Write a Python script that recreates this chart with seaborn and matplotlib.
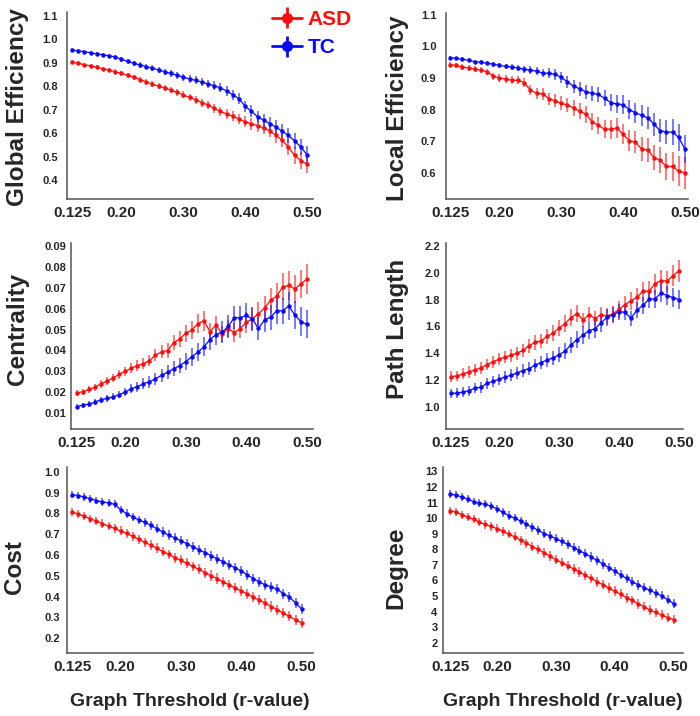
import numpy as np
import pandas as pd
import seaborn as sns
import matplotlib.pyplot as plt

sns.set_theme(style='white')
plt.rcParams['font.family'] = ['Liberation Sans', 'DejaVu Sans']
plt.rcParams['font.weight'] = 'bold'

# graph thresholds (r-value), plotted at evenly spaced positions
thresholds = [0.125, 0.13, 0.14, 0.15, 0.16, 0.17, 0.18, 0.19, 0.20, 0.21, 0.22, 0.23, 0.24,
              0.25, 0.26, 0.27, 0.28, 0.29, 0.30, 0.31, 0.32, 0.33, 0.34, 0.35, 0.36, 0.37,
              0.38, 0.39, 0.40, 0.41, 0.42, 0.43, 0.44, 0.45, 0.46, 0.47, 0.48, 0.49, 0.50]
tick_values = [0.125, 0.20, 0.30, 0.40, 0.50]
tick_labels = ['0.125', '0.20', '0.30', '0.40', '0.50']
groups = ['ASD', 'TC']

# global efficiency
ge_asd = [0.902, 0.897, 0.891, 0.886, 0.880, 0.874, 0.868, 0.861, 0.854, 0.846, 0.838, 0.828, 0.818,
          0.808, 0.800, 0.792, 0.783, 0.773, 0.763, 0.752, 0.742, 0.730, 0.720, 0.705, 0.692, 0.682,
          0.672, 0.660, 0.648, 0.640, 0.632, 0.622, 0.610, 0.590, 0.570, 0.540, 0.505, 0.483, 0.468]
ge_asd_err = [0.008, 0.008, 0.008, 0.008, 0.009, 0.009, 0.009, 0.010, 0.010, 0.011, 0.011, 0.012, 0.012,
              0.013, 0.013, 0.014, 0.014, 0.015, 0.015, 0.016, 0.017, 0.017, 0.018, 0.019, 0.020, 0.021,
              0.022, 0.023, 0.024, 0.025, 0.026, 0.027, 0.028, 0.030, 0.031, 0.033, 0.035, 0.037, 0.038]
ge_tc = [0.953, 0.950, 0.946, 0.942, 0.937, 0.933, 0.929, 0.924, 0.914, 0.905, 0.897, 0.890, 0.883,
         0.876, 0.869, 0.861, 0.854, 0.846, 0.838, 0.831, 0.824, 0.817, 0.809, 0.801, 0.793, 0.779,
         0.763, 0.746, 0.714, 0.693, 0.670, 0.655, 0.640, 0.625, 0.608, 0.590, 0.567, 0.541, 0.508]
ge_tc_err = [0.007, 0.007, 0.007, 0.008, 0.008, 0.008, 0.009, 0.009, 0.010, 0.010, 0.011, 0.011, 0.012,
             0.012, 0.013, 0.013, 0.014, 0.015, 0.015, 0.016, 0.017, 0.018, 0.018, 0.019, 0.020, 0.021,
             0.022, 0.023, 0.024, 0.025, 0.026, 0.027, 0.028, 0.029, 0.030, 0.031, 0.033, 0.034, 0.036]

# local efficiency
le_asd = [0.942, 0.940, 0.935, 0.932, 0.928, 0.925, 0.920, 0.906, 0.900, 0.897, 0.893, 0.893, 0.885,
          0.862, 0.852, 0.850, 0.835, 0.828, 0.820, 0.815, 0.805, 0.795, 0.785, 0.762, 0.750, 0.738,
          0.738, 0.742, 0.722, 0.702, 0.697, 0.675, 0.672, 0.648, 0.640, 0.620, 0.620, 0.605, 0.600]
le_asd_err = [0.008, 0.008, 0.008, 0.009, 0.009, 0.010, 0.010, 0.011, 0.012, 0.012, 0.013, 0.013, 0.014,
              0.016, 0.017, 0.018, 0.019, 0.020, 0.022, 0.023, 0.024, 0.025, 0.026, 0.027, 0.028, 0.029,
              0.030, 0.031, 0.032, 0.034, 0.035, 0.037, 0.038, 0.040, 0.041, 0.043, 0.045, 0.047, 0.050]
le_tc = [0.965, 0.962, 0.960, 0.956, 0.952, 0.950, 0.947, 0.944, 0.940, 0.937, 0.935, 0.932, 0.928,
         0.925, 0.922, 0.916, 0.915, 0.912, 0.902, 0.888, 0.874, 0.866, 0.856, 0.852, 0.848, 0.836,
         0.822, 0.818, 0.816, 0.800, 0.790, 0.782, 0.774, 0.754, 0.733, 0.729, 0.729, 0.712, 0.675]
le_tc_err = [0.005, 0.005, 0.006, 0.006, 0.006, 0.007, 0.007, 0.008, 0.008, 0.009, 0.009, 0.010, 0.011,
             0.012, 0.013, 0.014, 0.016, 0.017, 0.018, 0.020, 0.021, 0.022, 0.023, 0.024, 0.025, 0.026,
             0.027, 0.028, 0.030, 0.031, 0.032, 0.033, 0.034, 0.036, 0.037, 0.039, 0.040, 0.042, 0.045]

# centrality
ce_asd = [0.0196, 0.0201, 0.0212, 0.0223, 0.0239, 0.0252, 0.0268, 0.0284, 0.0300, 0.0313, 0.0327, 0.0335, 0.0351,
          0.0377, 0.0393, 0.0399, 0.0436, 0.0455, 0.0482, 0.0498, 0.0528, 0.0542, 0.0490, 0.0522, 0.0478, 0.0505,
          0.0485, 0.0505, 0.0535, 0.0552, 0.0576, 0.0603, 0.0640, 0.0660, 0.0705, 0.0712, 0.0695, 0.0720, 0.0742]
ce_asd_err = [0.0015, 0.0015, 0.0016, 0.0017, 0.0018, 0.0019, 0.0020, 0.0021, 0.0022, 0.0024, 0.0025, 0.0026, 0.0028,
              0.0030, 0.0032, 0.0034, 0.0036, 0.0038, 0.0040, 0.0042, 0.0045, 0.0048, 0.0040, 0.0045, 0.0040, 0.0042,
              0.0045, 0.0048, 0.0050, 0.0052, 0.0055, 0.0058, 0.0060, 0.0063, 0.0065, 0.0068, 0.0066, 0.0068, 0.0072]
ce_tc = [0.0130, 0.0136, 0.0142, 0.0150, 0.0163, 0.0169, 0.0176, 0.0187, 0.0199, 0.0216, 0.0225, 0.0240, 0.0249,
         0.0263, 0.0280, 0.0295, 0.0311, 0.0327, 0.0346, 0.0369, 0.0391, 0.0417, 0.0452, 0.0476, 0.0487, 0.0515,
         0.0557, 0.0557, 0.0568, 0.0550, 0.0506, 0.0546, 0.0560, 0.0590, 0.0590, 0.0613, 0.0570, 0.0538, 0.0525]
ce_tc_err = [0.0012, 0.0012, 0.0013, 0.0014, 0.0015, 0.0016, 0.0017, 0.0018, 0.0020, 0.0022, 0.0024, 0.0026, 0.0028,
             0.0030, 0.0032, 0.0034, 0.0036, 0.0038, 0.0040, 0.0042, 0.0044, 0.0046, 0.0048, 0.0050, 0.0052, 0.0054,
             0.0056, 0.0058, 0.0060, 0.0058, 0.0056, 0.0058, 0.0060, 0.0062, 0.0064, 0.0066, 0.0066, 0.0068, 0.0068]

# path length
pl_asd = [1.225, 1.230, 1.245, 1.260, 1.275, 1.290, 1.315, 1.335, 1.355, 1.370, 1.385, 1.400, 1.420,
          1.455, 1.480, 1.490, 1.525, 1.550, 1.585, 1.620, 1.665, 1.695, 1.648, 1.688, 1.658, 1.688,
          1.678, 1.692, 1.728, 1.762, 1.790, 1.818, 1.862, 1.862, 1.918, 1.942, 1.938, 1.978, 2.015]
pl_asd_err = [0.040, 0.040, 0.041, 0.042, 0.042, 0.043, 0.044, 0.045, 0.046, 0.047, 0.048, 0.049, 0.050,
              0.052, 0.053, 0.054, 0.056, 0.058, 0.060, 0.062, 0.064, 0.066, 0.055, 0.058, 0.056, 0.058,
              0.060, 0.062, 0.064, 0.066, 0.068, 0.070, 0.072, 0.074, 0.075, 0.076, 0.078, 0.080, 0.082]
pl_tc = [1.100, 1.102, 1.110, 1.120, 1.140, 1.145, 1.175, 1.190, 1.205, 1.222, 1.235, 1.252, 1.270,
         1.285, 1.310, 1.330, 1.348, 1.365, 1.388, 1.415, 1.462, 1.500, 1.535, 1.568, 1.582, 1.625,
         1.668, 1.686, 1.710, 1.705, 1.660, 1.722, 1.757, 1.803, 1.805, 1.848, 1.830, 1.815, 1.800]
pl_tc_err = [0.035, 0.036, 0.037, 0.038, 0.039, 0.040, 0.041, 0.042, 0.043, 0.044, 0.045, 0.046, 0.047,
             0.048, 0.049, 0.050, 0.052, 0.054, 0.056, 0.058, 0.060, 0.062, 0.064, 0.066, 0.066, 0.066,
             0.064, 0.062, 0.060, 0.060, 0.058, 0.060, 0.062, 0.064, 0.066, 0.068, 0.070, 0.072, 0.074]

# cost
co_asd = [0.806, 0.797, 0.786, 0.774, 0.763, 0.751, 0.739, 0.728, 0.716, 0.704, 0.690, 0.676, 0.661,
          0.648, 0.633, 0.617, 0.603, 0.588, 0.574, 0.560, 0.545, 0.531, 0.515, 0.501, 0.487, 0.471,
          0.457, 0.442, 0.428, 0.413, 0.398, 0.383, 0.368, 0.352, 0.337, 0.321, 0.305, 0.289, 0.275]
co_asd_err = [0.020, 0.020, 0.020, 0.020, 0.021, 0.021, 0.021, 0.021, 0.022, 0.022, 0.022, 0.022, 0.023,
              0.023, 0.023, 0.023, 0.023, 0.024, 0.024, 0.024, 0.024, 0.024, 0.024, 0.025, 0.025, 0.025,
              0.025, 0.025, 0.025, 0.025, 0.025, 0.025, 0.025, 0.025, 0.025, 0.024, 0.024, 0.024, 0.024]
co_tc = [0.890, 0.886, 0.879, 0.871, 0.862, 0.855, 0.851, 0.844, 0.818, 0.799, 0.783, 0.769, 0.758,
         0.743, 0.727, 0.711, 0.695, 0.682, 0.669, 0.654, 0.639, 0.625, 0.612, 0.597, 0.582, 0.568,
         0.553, 0.538, 0.524, 0.505, 0.487, 0.471, 0.456, 0.448, 0.435, 0.414, 0.398, 0.370, 0.342]
co_tc_err = [0.018, 0.018, 0.018, 0.019, 0.019, 0.019, 0.020, 0.020, 0.020, 0.021, 0.021, 0.021, 0.022,
             0.022, 0.022, 0.022, 0.023, 0.023, 0.023, 0.023, 0.023, 0.024, 0.024, 0.024, 0.024, 0.024,
             0.024, 0.024, 0.024, 0.024, 0.024, 0.024, 0.024, 0.024, 0.024, 0.024, 0.024, 0.023, 0.023]

# degree
de_asd = [10.47, 10.39, 10.22, 10.07, 9.93, 9.74, 9.59, 9.47, 9.32, 9.16, 8.97, 8.79, 8.58,
          8.39, 8.17, 7.99, 7.77, 7.56, 7.34, 7.13, 6.95, 6.73, 6.55, 6.32, 6.13, 5.91,
          5.73, 5.51, 5.31, 5.11, 4.89, 4.71, 4.49, 4.31, 4.09, 3.94, 3.77, 3.61, 3.48]
de_asd_err = [0.26, 0.26, 0.26, 0.27, 0.27, 0.27, 0.27, 0.28, 0.28, 0.28, 0.28, 0.29, 0.29,
              0.29, 0.29, 0.29, 0.30, 0.30, 0.30, 0.30, 0.30, 0.30, 0.30, 0.31, 0.31, 0.31,
              0.31, 0.31, 0.31, 0.31, 0.31, 0.31, 0.31, 0.30, 0.30, 0.30, 0.30, 0.30, 0.30]
de_tc = [11.55, 11.47, 11.36, 11.21, 11.06, 10.96, 10.88, 10.77, 10.59, 10.36, 10.16, 10.00, 9.81,
         9.60, 9.41, 9.21, 9.01, 8.85, 8.68, 8.50, 8.31, 8.11, 7.91, 7.71, 7.50, 7.28,
         7.05, 6.82, 6.59, 6.36, 6.13, 5.91, 5.71, 5.53, 5.36, 5.18, 5.00, 4.76, 4.51]
de_tc_err = [0.24, 0.24, 0.25, 0.25, 0.25, 0.26, 0.26, 0.26, 0.27, 0.27, 0.27, 0.28, 0.28,
             0.28, 0.28, 0.29, 0.29, 0.29, 0.29, 0.30, 0.30, 0.30, 0.30, 0.30, 0.30, 0.30,
             0.30, 0.30, 0.30, 0.30, 0.30, 0.30, 0.30, 0.30, 0.30, 0.30, 0.29, 0.29, 0.29]

colors = {'ASD': '#ff0d0d', 'TC': '#0a0aff'}
fig_w, fig_h = 700, 716

# name, asd, asd_err, tc, tc_err, yticks, tick format,
# axes box in pixels (left, top, right, bottom), xlim, ylim,
# ylabel position (x, y in axes fraction), y tick label pad
panels = [
    ('Global Efficiency', ge_asd, ge_asd_err, ge_tc, ge_tc_err,
     [0.4, 0.5, 0.6, 0.7, 0.8, 0.9, 1.0, 1.1], '{:.1f}',
     (67, 12, 313, 199), (-0.81, 38.97), (0.32, 1.115), (-0.20, 0.49), 6.5),
    ('Local Efficiency', le_asd, le_asd_err, le_tc, le_tc_err,
     [0.6, 0.7, 0.8, 0.9, 1.0, 1.1], '{:.1f}',
     (446, 13, 688, 199), (-0.65, 38.5), (0.517, 1.106), (-0.20, 0.49), 7.0),
    ('Centrality', ce_asd, ce_asd_err, ce_tc, ce_tc_err,
     [0.01, 0.02, 0.03, 0.04, 0.05, 0.06, 0.07, 0.08, 0.09], '{:.2f}',
     (70.7, 243, 313, 429), (-0.99, 39.0), (0.0022, 0.0916), (-0.22, 0.54), 3.2),
    ('Path Length', pl_asd, pl_asd_err, pl_tc, pl_tc_err,
     [1.0, 1.2, 1.4, 1.6, 1.8, 2.0, 2.2], '{:.1f}',
     (445.7, 243, 683, 429), (-0.88, 38.67), (0.834, 2.222), (-0.205, 0.54), 4.0),
    ('Cost', co_asd, co_asd_err, co_tc, co_tc_err,
     [0.2, 0.3, 0.4, 0.5, 0.6, 0.7, 0.8, 0.9, 1.0], '{:.1f}',
     (66.7, 467, 313, 653.3), (-0.93, 39.9), (0.128, 1.023), (-0.21, 0.465), 5.0),
    ('Degree', de_asd, de_asd_err, de_tc, de_tc_err,
     [2, 3, 4, 5, 6, 7, 8, 9, 10, 11, 12, 13], '{:.0f}',
     (443.3, 467, 683, 653.3), (-1.14, 39.6), (1.32, 13.28), (-0.197, 0.46), 4.2),
]

pos = np.arange(len(thresholds))
tick_pos = [thresholds.index(t) for t in tick_values]

fig = plt.figure(figsize=(fig_w / 100, fig_h / 100), dpi=100)
axes = []
for name, asd, asd_err, tc, tc_err, yticks, fmt, box, xlim, ylim, lab, ypad in panels:
    l, t, r, b = box
    ax = fig.add_axes([l / fig_w, 1 - b / fig_h, (r - l) / fig_w, (b - t) / fig_h])
    axes.append(ax)

    df = pd.DataFrame({'pos': np.concatenate([pos, pos]),
                       'value': np.concatenate([asd, tc]),
                       'group': ['ASD'] * len(pos) + ['TC'] * len(pos)})
    for g, vals, err in [('ASD', asd, asd_err), ('TC', tc, tc_err)]:
        ax.errorbar(pos, vals, yerr=err, fmt='none', ecolor=colors[g],
                    elinewidth=1.4, alpha=0.55, capsize=0, zorder=1)
    sns.lineplot(data=df, x='pos', y='value', hue='group', palette=colors,
                 marker='o', markersize=3.2, markeredgewidth=0, linewidth=0.9,
                 legend=False, ax=ax, zorder=2)

    ax.set_xlim(*xlim)
    ax.set_ylim(*ylim)
    ax.set_xticks(tick_pos)
    ax.set_xticklabels(tick_labels, fontsize=11, fontweight='bold')
    ax.set_yticks(yticks)
    ax.set_yticklabels([fmt.format(v) for v in yticks], fontsize=8, fontweight='bold')
    ax.tick_params(axis='x', direction='in', length=3, width=1, color='#555555', pad=5)
    ax.tick_params(axis='y', length=0, pad=ypad)
    for side in ['top', 'right']:
        ax.spines[side].set_visible(False)
    for side in ['left', 'bottom']:
        ax.spines[side].set_color('#555555')
        ax.spines[side].set_linewidth(1.1)
    ax.set_xlabel('')
    ax.set_ylabel(name, fontsize=17.5, fontweight='bold', va='center')
    ax.yaxis.set_label_coords(*lab)

for ax in axes[4:]:
    ax.set_xlabel('Graph Threshold (r-value)', fontsize=14, fontweight='bold')
    ax.xaxis.set_label_coords(0.5, -0.215)

# legend with error-bar handles
handles = []
for g in groups:
    h = axes[0].errorbar([np.nan], [np.nan], yerr=[np.nan], fmt='-o', color=colors[g],
                         ms=7, lw=2, elinewidth=2, capsize=0, label=g)
    handles.append(h)
axes[0].legend(handles=handles, labels=groups, loc='upper left',
               bbox_to_anchor=(272 / fig_w, 1 - 10 / fig_h), bbox_transform=fig.transFigure,
               frameon=False, borderpad=0, borderaxespad=0, handlelength=1.45,
               handletextpad=0.25, labelspacing=0.45,
               prop={'size': 15, 'weight': 'bold'}, labelcolor=[colors[g] for g in groups])

plt.savefig('out.png', dpi=100)
